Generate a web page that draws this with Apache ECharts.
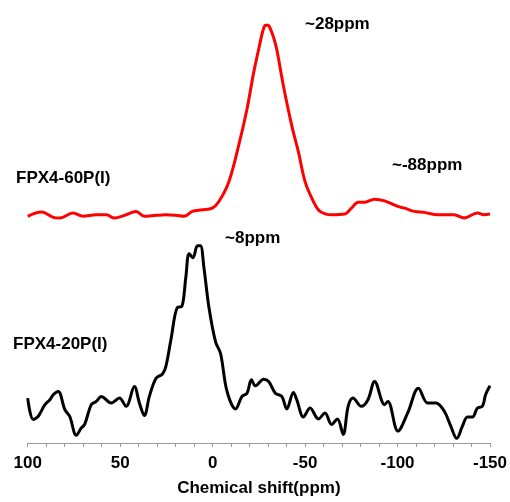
<!DOCTYPE html>
<html>
<head>
<meta charset="utf-8">
<script src="https://cdn.jsdelivr.net/npm/echarts@6/dist/echarts.min.js"></script>
<style>html,body{margin:0;padding:0;background:#fff}#c{width:510px;height:502px}</style>
</head>
<body>
<div id="c"></div>
<script>
// x-axis tick labels (ppm, axis reversed)
const xTicks = [100, 50, 0, -50, -100, -150];

// FPX4-60P(I) spectrum (red, upper trace)
const redShift = [100, 92.5, 86.2, 82.6, 75.5, 70.1, 62.9, 57.5, 53.1, 47.7, 41.4, 36.9, 30.6, 25.3, 19.9, 15.4, 11.0, 5.6, 0.2, -3.4, -8.8, -14.1, -18.6, -22.2, -25.8, -27.2, -28.6, -30.0, -31.4, -33.0, -34.7, -38.3, -42.8, -46.4, -50.0, -54.5, -58.1, -64.3, -71.5, -75.1, -78.7, -82.3, -87.6, -93.0, -100.2, -103.8, -109.1, -114.5, -121.7, -130.6, -136.0, -143.2, -146.8, -150];
const redIntensity = [228.7, 233, 227.7, 227, 232, 228.7, 230.3, 230.3, 227, 229.7, 233.7, 228.7, 229.7, 230.3, 229.7, 228.7, 233.7, 235.3, 237, 243.7, 263.7, 300.3, 337, 373.7, 405, 416, 421.5, 421.5, 417, 409, 397, 360.3, 320.3, 293.7, 263.7, 243.7, 233.7, 230.3, 231, 237, 243, 243, 246, 244.3, 238.7, 237, 233.7, 232.7, 230.3, 230.3, 227, 232, 230.3, 231];

// FPX4-20P(I) spectrum (black, lower trace)
const blackShift = [100, 97.0, 94.3, 90.7, 88.0, 86.2, 83.5, 79.9, 77.3, 73.7, 71.0, 69.2, 65.6, 62.9, 60.2, 54.8, 50.4, 46.8, 42.3, 39.6, 36.9, 34.2, 30.6, 27.1, 25.3, 22.6, 19.0, 16.7, 14.5, 12.7, 10.6, 8.2, 6.6, 4.7, 2.0, -1.6, -4.3, -7.8, -12.4, -15.9, -18.6, -21.0, -23.1, -27.6, -30.3, -33.9, -37.4, -40.1, -43.7, -45.5, -49.1, -52.7, -57.2, -60.8, -64.3, -67.5, -70.6, -73.3, -75.9, -80.4, -84.0, -87.6, -93.0, -94.8, -100.2, -105.5, -111.3, -116.3, -120.8, -125.3, -128.8, -132.0, -135.1, -137.8, -140.5, -143.2, -145.9, -147.6, -150];
const blackIntensity = [45.3, 23.7, 27, 38.7, 43.7, 48.7, 52, 33.7, 27, 7.7, 15.3, 18.7, 38.7, 42, 47, 40.3, 45.3, 37, 57, 40.3, 27.7, 47, 65.3, 69.7, 77, 103.7, 137, 137.7, 167, 191, 187, 199, 199, 177, 137, 102, 90.3, 52, 34.3, 47, 50.3, 63.7, 57.7, 64.3, 62, 50.3, 47, 34.3, 51, 43.7, 26.3, 35.3, 24.3, 30.3, 18.7, 24.3, 8.7, 37, 45.3, 37, 43.7, 62, 38.7, 42, 12, 30.3, 55.3, 40.3, 40.3, 32, 17, 4.7, 17, 26.3, 26.3, 35.3, 37, 48.7, 57.7];

const annotations = [
  { text: '~28ppm', x: 305, y: 24 },
  { text: '~-88ppm', x: 392, y: 165 },
  { text: 'FPX4-60P(I)', x: 16, y: 178 },
  { text: '~8ppm', x: 225, y: 238 },
  { text: 'FPX4-20P(I)', x: 13, y: 344 }
];

const FONT = '"Liberation Sans", Arial, sans-serif';
const zip = (a, b) => a.map((v, i) => [v, b[i]]);

const chart = echarts.init(document.getElementById('c'), null, { renderer: 'canvas' });
chart.setOption({
  animation: false,
  backgroundColor: '#ffffff',
  grid: { left: 27.7, right: 17.3, top: 0, bottom: 55, containLabel: false },
  xAxis: {
    type: 'value',
    inverse: true,
    min: Math.min(...xTicks),
    max: Math.max(...xTicks),
    interval: 50,
    name: 'Chemical shift(ppm)',
    nameLocation: 'middle',
    nameGap: 37,
    nameTextStyle: { fontFamily: FONT, fontWeight: 'bold', fontSize: 17, color: '#000' },
    axisLine: { show: true, lineStyle: { color: '#999', width: 1 } },
    axisTick: { show: true, length: 4, lineStyle: { color: '#999' } },
    minorTick: { show: true, splitNumber: 5, length: 4, lineStyle: { color: '#999' } },
    splitLine: { show: false },
    axisLabel: { margin: 12, fontFamily: FONT, fontWeight: 'bold', fontSize: 17, color: '#000', showMinLabel: true, showMaxLabel: true }
  },
  yAxis: { type: 'value', min: 0, max: 447, show: false },
  series: [
    { type: 'line', data: zip(redShift, redIntensity), smooth: 0.35, showSymbol: false, lineStyle: { color: '#ff0000', width: 3 }, z: 3 },
    { type: 'line', data: zip(blackShift, blackIntensity), smooth: 0.35, showSymbol: false, lineStyle: { color: '#000000', width: 3 }, z: 3 }
  ],
  graphic: annotations.map(a => ({
    type: 'text', x: a.x, y: a.y,
    style: { text: a.text, font: 'bold 17px ' + FONT, fill: '#000', align: 'left', verticalAlign: 'middle' }
  }))
});
</script>
</body>
</html>
